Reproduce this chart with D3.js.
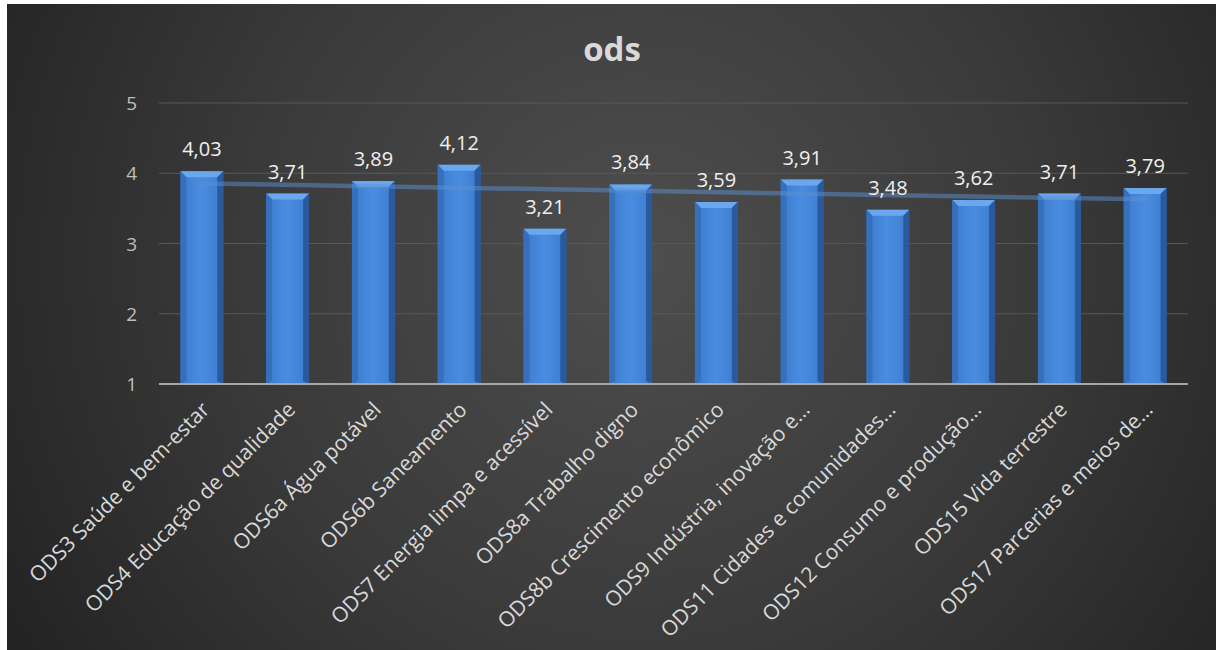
<!DOCTYPE html>
<html><head><meta charset="utf-8">
<script src="https://cdn.jsdelivr.net/npm/d3@7"></script>
<style>html,body{margin:0;padding:0;background:#fff;}svg{display:block;}</style>
</head><body>
<svg id="c" width="1216" height="650"></svg>
<script>
const title = "ods";
const categories = [
  "ODS3 Saúde e bem-estar",
  "ODS4 Educação de qualidade",
  "ODS6a Água potável",
  "ODS6b Saneamento",
  "ODS7 Energia limpa e acessível",
  "ODS8a Trabalho digno",
  "ODS8b Crescimento econômico",
  "ODS9 Indústria, inovação e…",
  "ODS11 Cidades e comunidades…",
  "ODS12 Consumo e produção…",
  "ODS15 Vida terrestre",
  "ODS17 Parcerias e meios de…"
];
const values = [4.03, 3.71, 3.89, 4.12, 3.21, 3.84, 3.59, 3.91, 3.48, 3.62, 3.71, 3.79];
const yTicks = [1, 2, 3, 4, 5];

const svg = d3.select("#c");
const defs = svg.append("defs");
const bg = defs.append("radialGradient").attr("id","bg")
  .attr("gradientUnits","userSpaceOnUse").attr("cx",640).attr("cy",260).attr("r",720);
bg.append("stop").attr("offset","0").attr("stop-color","#4e4e4e");
bg.append("stop").attr("offset","0.55").attr("stop-color","#3a3a3a");
bg.append("stop").attr("offset","1").attr("stop-color","#242424");

const barG = defs.append("linearGradient").attr("id","barG").attr("x1","0").attr("x2","1").attr("y1","0").attr("y2","0");
[["0","#2c62ab"],["0.12","#3f7fd2"],["0.5","#4a8de0"],["0.88","#3f7fd2"],["1","#2c62ab"]]
  .forEach(([o,c])=>barG.append("stop").attr("offset",o).attr("stop-color",c));

svg.append("rect").attr("x",7).attr("y",4).attr("width",1209).attr("height",646).attr("fill","url(#bg)");

const x = d3.scaleBand().domain(categories).range([159,1188]).paddingInner(0.5).paddingOuter(0.25);
const y = d3.scaleLinear().domain([1,5]).range([384,103]);

// gridlines
svg.append("g").selectAll("line").data(yTicks.filter(t=>t>1)).join("line")
  .attr("x1",159).attr("x2",1188).attr("y1",d=>y(d)).attr("y2",d=>y(d))
  .attr("stroke","#585858").attr("stroke-width",1.2);

// y axis labels
const yAxis = d3.axisLeft(y).tickValues(yTicks).tickSize(0).tickPadding(0).tickFormat(d3.format("d"));
const ya = svg.append("g").attr("transform","translate(137,0)").call(yAxis);
ya.select(".domain").remove();
ya.selectAll("text").attr("fill","#bfbfbf").attr("font-family","'Open Sans', sans-serif").attr("font-size",19).attr("dy","0.35em");

// bars
const bw = x.bandwidth();
const bars = svg.append("g").selectAll("g").data(values).join("g");
bars.append("rect")
  .attr("x",(d,i)=>x(categories[i])).attr("y",d=>y(d))
  .attr("width",bw).attr("height",d=>y(1)-y(d))
  .attr("fill","url(#barG)");
bars.append("path")
  .attr("d",(d,i)=>{const x0=x(categories[i]), y0=y(d);
    return `M${x0},${y0}L${x0+bw},${y0}L${x0+bw-6},${y0+6}L${x0+6},${y0+6}Z`;})
  .attr("fill","#6aa7ef");
bars.append("path")
  .attr("d",(d,i)=>{const x0=x(categories[i]), y0=y(d), y1=y(1);
    return `M${x0},${y0}L${x0+6},${y0+6}L${x0+6},${y1-3}L${x0},${y1}Z`;})
  .attr("fill","#3670bd");
bars.append("path")
  .attr("d",(d,i)=>{const x0=x(categories[i])+bw, y0=y(d), y1=y(1);
    return `M${x0},${y0}L${x0-6},${y0+6}L${x0-6},${y1-3}L${x0},${y1}Z`;})
  .attr("fill","#2a5a9c");

// axis line
svg.append("line").attr("x1",159).attr("x2",1188).attr("y1",y(1)).attr("y2",y(1))
  .attr("stroke","#a6a6a6").attr("stroke-width",2);

// linear trendline
const n = values.length;
const xs = d3.range(1,n+1);
const mx = d3.mean(xs), my = d3.mean(values);
const slope = d3.sum(xs.map((v,i)=>(v-mx)*(values[i]-my)))/d3.sum(xs.map(v=>(v-mx)*(v-mx)));
const icpt = my - slope*mx;
const cx = i => x(categories[i]) + bw/2;
svg.append("line")
  .attr("x1",cx(0)).attr("x2",cx(n-1))
  .attr("y1",y(icpt+slope*1)).attr("y2",y(icpt+slope*n))
  .attr("stroke","#5b8fd0").attr("stroke-opacity",0.5).attr("stroke-width",4.5);

// data labels
const loc = d3.formatLocale({decimal:",",thousands:".",grouping:[3],currency:["",""]});
const fmt = loc.format(".2f");
svg.append("g").selectAll("text").data(values).join("text")
  .attr("x",(d,i)=>cx(i)).attr("y",d=>y(d)-15)
  .attr("text-anchor","middle").attr("fill","#f0f0f0")
  .attr("font-family","'Open Sans', sans-serif").attr("font-size",20)
  .text(d=>fmt(d));

// x labels
svg.append("g").selectAll("text").data(categories).join("text")
  .attr("transform",(d,i)=>`translate(${cx(i)+9},${411}) rotate(-45)`)
  .attr("text-anchor","end").attr("fill","#d9d9d9")
  .attr("font-family","'Open Sans', sans-serif").attr("font-size",21)
  .text(d=>d);

// title
svg.append("text").attr("x",612).attr("y",61).attr("text-anchor","middle")
  .attr("fill","#d9d9d9").attr("font-family","'Open Sans', sans-serif")
  .attr("font-weight","bold").attr("font-size",33).text(title);
</script>
</body></html>
